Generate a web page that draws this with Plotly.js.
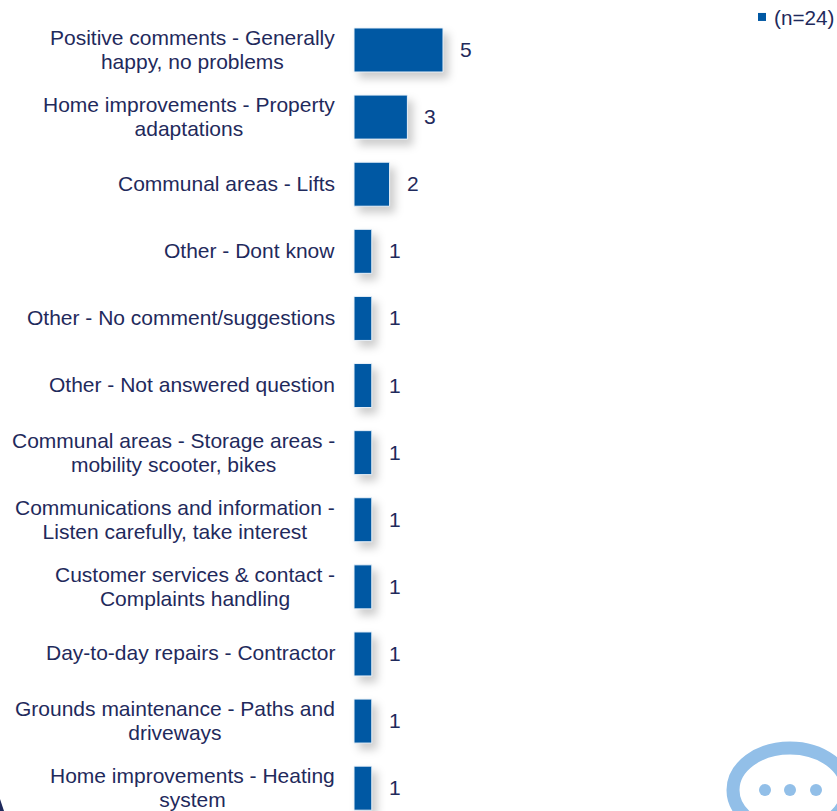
<!DOCTYPE html>
<html>
<head>
<meta charset="utf-8">
<script src="https://cdn.plot.ly/plotly-3.0.1.min.js"></script>
<style>
html,body{margin:0;padding:0;background:#fff;overflow:hidden}
#chart{width:837px;height:811px}
.bars .point path{filter:drop-shadow(5px 6px 4px rgba(0,0,0,0.2))}
.legend .legendsymbols{transform:translate(11px,-3px)}
.legend .legendtext{transform:translate(3px,-3px)}
</style>
</head>
<body>
<div id="chart"></div>
<script>
var categories = [
  "Positive comments - Generally<br>happy, no problems",
  "Home improvements - Property<br>adaptations",
  "Communal areas - Lifts",
  "Other - Dont know",
  "Other - No comment/suggestions",
  "Other - Not answered question",
  "Communal areas - Storage areas -<br>mobility scooter, bikes",
  "Communications and information -<br>Listen carefully, take interest",
  "Customer services &amp; contact -<br>Complaints handling",
  "Day-to-day repairs - Contractor",
  "Grounds maintenance - Paths and<br>driveways",
  "Home improvements - Heating<br>system"
];
var values = [5, 3, 2, 1, 1, 1, 1, 1, 1, 1, 1, 1];
var seriesName = "(n=24)";
var navy = "#1F2A5C", blue = "#0058A3", bubble = "#92BFE8";
var idx = categories.map(function(_, i){ return i; });
var font = {family: "Liberation Sans, Arial, sans-serif", size: 21, color: navy};
var legendFont = {family: "Liberation Sans, Arial, sans-serif", size: 20.7, color: navy};

var catNotes = categories.map(function(c, i){
  return {x: 0, y: i, xref: "x", yref: "y", text: c, showarrow: false,
    xanchor: "right", yanchor: "middle", align: "center", xshift: -17, yshift: 1, font: font};
});
var valNotes = values.map(function(v, i){
  return {x: v, y: i, xref: "x", yref: "y", text: String(v), showarrow: false,
    xanchor: "left", yanchor: "middle", xshift: 15, yshift: 0.5, font: font};
});

var shapes = [
  {type: "circle", xref: "paper", yref: "paper", x0: 733/837, x1: 847/837, y0: 1-(748+84)/811, y1: 1-748/811,
   line: {color: bubble, width: 13}, fillcolor: "rgba(0,0,0,0)"},
  {type: "circle", xref: "paper", yref: "paper", x0: 759/837, x1: 771/837, y0: 1-796/811, y1: 1-784/811, line: {width: 0}, fillcolor: bubble},
  {type: "circle", xref: "paper", yref: "paper", x0: 784/837, x1: 796/837, y0: 1-796/811, y1: 1-784/811, line: {width: 0}, fillcolor: bubble},
  {type: "circle", xref: "paper", yref: "paper", x0: 810/837, x1: 822/837, y0: 1-796/811, y1: 1-784/811, line: {width: 0}, fillcolor: bubble},
  {type: "path", xref: "paper", yref: "paper", path: "M0,0 L"+(4/837)+",0 Q"+(2/837)+","+(6/811)+" 0,"+(12/811)+" Z", line: {width: 0}, fillcolor: navy}
];

Plotly.newPlot("chart", [
  {type: "bar", orientation: "h", x: values, y: idx, showlegend: false,
   marker: {color: blue, line: {color: "#EAF2F9", width: 1}}, hoverinfo: "skip"},
  {type: "scatter", mode: "markers", x: [null], y: [null], name: seriesName,
   marker: {symbol: "square", size: 8, color: blue}, showlegend: true}
], {
  width: 837, height: 811,
  margin: {l: 0, r: 0, t: 0, b: 0, pad: 0},
  paper_bgcolor: "#fff", plot_bgcolor: "rgba(0,0,0,0)",
  bargap: 0.344,
  xaxis: {range: [-354/17.8, 483/17.8], visible: false, fixedrange: true},
  yaxis: {range: [11.34, -0.745], visible: false, fixedrange: true},
  showlegend: true,
  legend: {x: 1, xanchor: "right", y: 1, yanchor: "top", font: legendFont, bgcolor: "rgba(0,0,0,0)", itemclick: false},
  annotations: catNotes.concat(valNotes),
  shapes: shapes
}, {displayModeBar: false, staticPlot: true}).then(function(){
  // set the line pitch of the wrapped labels to the reference's 24px
  document.querySelectorAll("#chart .annotation-text").forEach(function(t){
    var lines = t.querySelectorAll("tspan.line");
    if (lines.length === 2) {
      lines[0].setAttribute("dy", "1.65px");
      lines[1].setAttribute("dy", "26px");
    }
  });
});
</script>
</body>
</html>
